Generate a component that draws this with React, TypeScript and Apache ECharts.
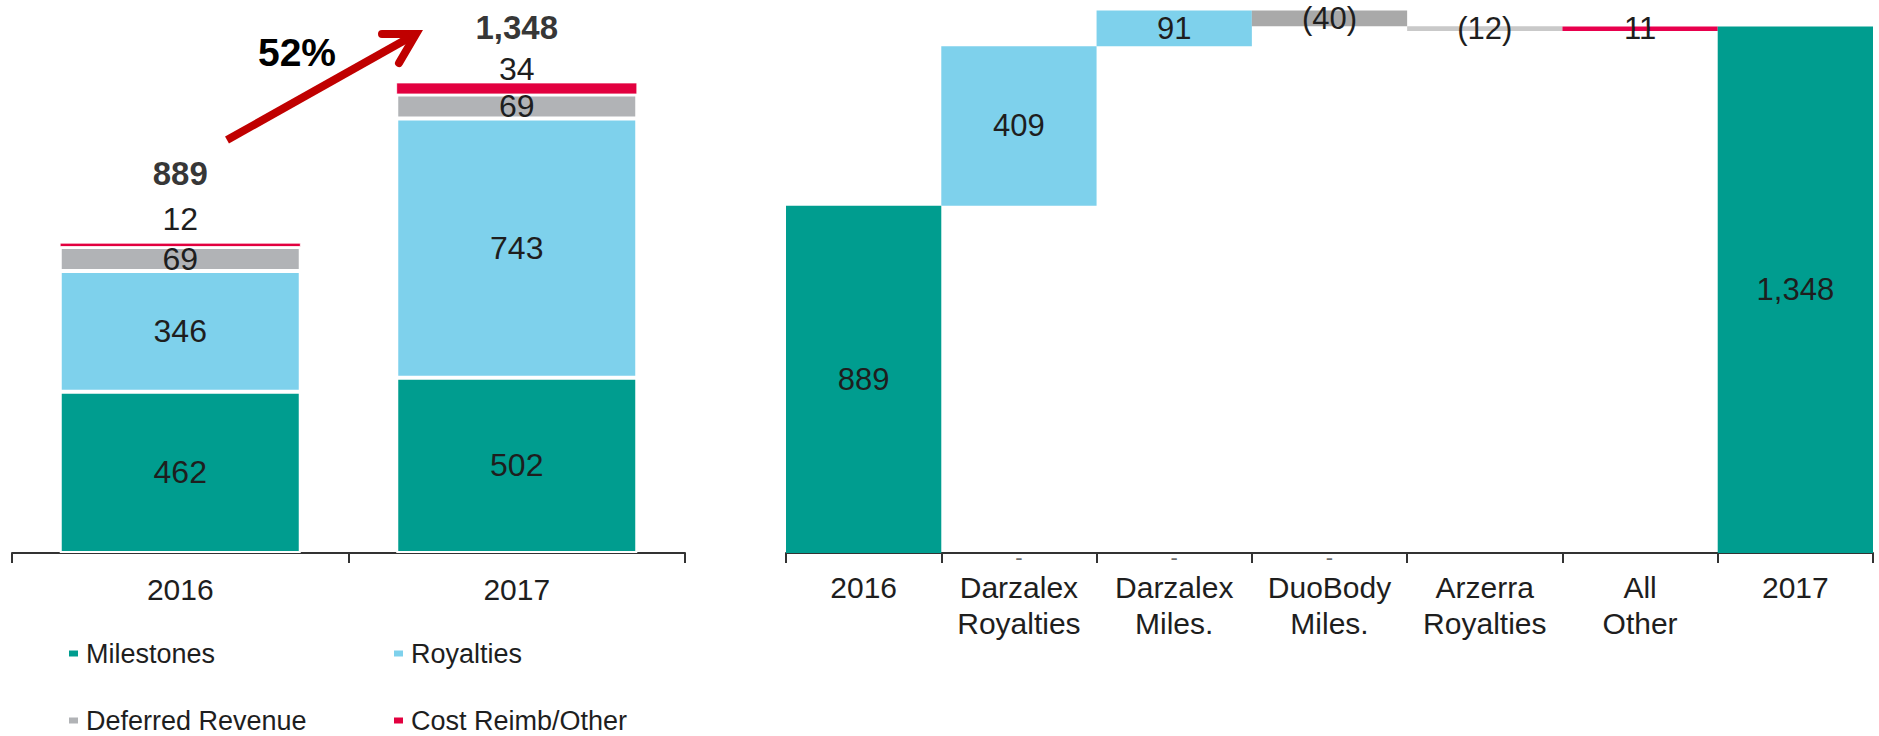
import React, { useEffect, useRef } from "react";
import * as echarts from "echarts";

// ---------- data ----------
const years = ["2016", "2017"];
const milestones = [462, 502];
const royalties = [346, 743];
const deferredRevenue = [69, 69];
const costReimbOther = [12, 34];
const growthLabel = "52%";

const bridgeCategories = [
  "2016",
  "Darzalex\nRoyalties",
  "Darzalex\nMiles.",
  "DuoBody\nMiles.",
  "Arzerra\nRoyalties",
  "All\nOther",
  "2017",
];
const bridgeStart = 889;
const bridgeChanges = [409, 91, -40, -12, 11];
const bridgeEnd = 1348;
const bridgeZeroMarks = [null, 0, 0, 0, null, null, null];

// ---------- styles ----------
const FONT = '"Liberation Sans", Arial, Helvetica, sans-serif';
const TEXT = "#1e1e1e";
const TEAL = "#009D8F";
const BLUE = "#7ED1EC";
const GREY = "#B1B3B6";
const RED = "#E2003F";
const bridgeColors = [TEAL, BLUE, BLUE, "#A9A9A9", "#C9C9C9", "#E8004D", TEAL];

const fmt = (v: number) =>
  v < 0 ? `(${Math.abs(v).toLocaleString("en-US")})` : v.toLocaleString("en-US");

function buildOption() {
  const totals = years.map(
    (_, i) => milestones[i] + royalties[i] + deferredRevenue[i] + costReimbOther[i]
  );
  const costDist = [8, -2];
  const totalDist = [53, 39];

  // waterfall
  const base: number[] = [0];
  const visible: number[] = [bridgeStart];
  const signed: number[] = [bridgeStart];
  let cum = bridgeStart;
  bridgeChanges.forEach((c) => {
    const next = cum + c;
    base.push(Math.min(cum, next));
    visible.push(Math.abs(c));
    signed.push(c);
    cum = next;
  });
  base.push(0);
  visible.push(bridgeEnd);
  signed.push(bridgeEnd);

  const segLabel = {
    show: true,
    position: "inside",
    fontFamily: FONT,
    fontSize: 32,
    color: TEXT,
  };
  const leftBar = (name: string, data: any[], color: string, label: any, bw = 2) => ({
    name,
    type: "bar",
    stack: "rev",
    xAxisIndex: 0,
    yAxisIndex: 0,
    barWidth: 241,
    data,
    itemStyle: { color, borderColor: "#ffffff", borderWidth: bw },
    label,
  });

  const legendBase = {
    icon: "rect",
    itemWidth: 11,
    itemHeight: 8,
    itemGap: 0,
    padding: 0,
    textStyle: { fontFamily: FONT, fontSize: 27, color: TEXT, padding: [0, 0, 0, 2] },
    selectedMode: false,
  };

  return {
    animation: false,
    backgroundColor: "#ffffff",
    textStyle: { fontFamily: FONT },
    legend: [
      { ...legendBase, data: ["Milestones"], left: 67, top: 640 },
      { ...legendBase, data: ["Royalties"], left: 392, top: 640 },
      { ...legendBase, data: ["Deferred Revenue"], left: 67, top: 707 },
      { ...legendBase, data: ["Cost Reimb/Other"], left: 392, top: 707 },
    ],
    grid: [
      { left: 12, top: 29.5, width: 673, height: 523.5 },
      { left: 786, top: 6.3, width: 1087, height: 546.7 },
    ],
    xAxis: [
      {
        type: "category",
        gridIndex: 0,
        data: years,
        axisLine: { lineStyle: { color: "#333333", width: 2 } },
        axisTick: { show: true, length: 10, lineStyle: { color: "#333333", width: 2 } },
        axisLabel: { fontFamily: FONT, fontSize: 30, color: TEXT, margin: 21 },
      },
      {
        type: "category",
        gridIndex: 1,
        data: bridgeCategories,
        axisLine: { lineStyle: { color: "#333333", width: 2 } },
        axisTick: { show: true, length: 10, lineStyle: { color: "#333333", width: 2 } },
        axisLabel: {
          fontFamily: FONT,
          fontSize: 30,
          lineHeight: 36,
          color: TEXT,
          margin: 16,
          interval: 0,
        },
      },
    ],
    yAxis: [
      { type: "value", gridIndex: 0, min: 0, max: 1500, show: false, splitLine: { show: false } },
      { type: "value", gridIndex: 1, min: 0, max: 1400, show: false, splitLine: { show: false } },
    ],
    series: [
      leftBar("Milestones", milestones, TEAL, segLabel),
      leftBar("Royalties", royalties, BLUE, segLabel),
      leftBar("Deferred Revenue", deferredRevenue, GREY, segLabel),
      leftBar(
        "Cost Reimb/Other",
        costReimbOther.map((v, i) => ({
          value: v,
          label: {
            show: true,
            position: "top",
            distance: costDist[i],
            fontFamily: FONT,
            fontSize: 32,
            color: TEXT,
          },
        })),
        RED,
        { show: true },
        0.8
      ),
      {
        name: "Total",
        type: "scatter",
        xAxisIndex: 0,
        yAxisIndex: 0,
        symbolSize: 0,
        silent: true,
        data: totals.map((v, i) => ({
          value: v,
          label: {
            show: true,
            position: "top",
            distance: totalDist[i],
            formatter: () => fmt(v),
            fontFamily: FONT,
            fontSize: 33,
            fontWeight: "bold",
            color: "#000000",
          },
        })),
        z: 5,
      },
      {
        name: "base",
        type: "bar",
        stack: "wf",
        xAxisIndex: 1,
        yAxisIndex: 1,
        barCategoryGap: "0%",
        data: base,
        itemStyle: { color: "rgba(0,0,0,0)" },
        silent: true,
      },
      {
        name: "bridge",
        type: "bar",
        stack: "wf",
        xAxisIndex: 1,
        yAxisIndex: 1,
        barCategoryGap: "0%",
        data: visible.map((v, i) => ({
          value: v,
          itemStyle: { color: bridgeColors[i] },
          label: {
            show: true,
            position: "inside",
            formatter: () => fmt(signed[i]),
            fontFamily: FONT,
            fontSize: 31,
            color: TEXT,
          },
        })),
      },
      {
        name: "zero",
        type: "scatter",
        xAxisIndex: 1,
        yAxisIndex: 1,
        symbolSize: 0,
        silent: true,
        data: bridgeZeroMarks,
        label: {
          show: true,
          position: "bottom",
          distance: -7,
          formatter: "-",
          fontFamily: FONT,
          fontSize: 22,
          color: "#444444",
        },
      },
    ],
    graphic: [
      {
        type: "polyline",
        z: 100,
        shape: { points: [[227, 140], [414, 35]] },
        style: { stroke: "#C00000", lineWidth: 8, fill: null, lineCap: "butt" },
      },
      {
        type: "polyline",
        z: 100,
        shape: { points: [[382, 34], [416, 34], [399, 63]] },
        style: {
          stroke: "#C00000",
          lineWidth: 8,
          fill: null,
          lineCap: "round",
          lineJoin: "miter",
        },
      },
      {
        type: "text",
        z: 100,
        x: 297,
        y: 52,
        style: {
          text: growthLabel,
          fontFamily: FONT,
          fontSize: 39,
          fontWeight: "bold",
          fill: "#000000",
          align: "center",
          verticalAlign: "middle",
        },
      },
    ],
  };
}

export default function App() {
  const ref = useRef<HTMLDivElement>(null);
  useEffect(() => {
    if (!ref.current) return;
    const chart = echarts.init(ref.current, undefined, { renderer: "svg" });
    chart.setOption(buildOption() as any);
    return () => chart.dispose();
  }, []);
  return (
    <div
      ref={ref}
      style={{ position: "absolute", left: 0, top: 0, width: 1879, height: 736, background: "#fff" }}
    />
  );
}
